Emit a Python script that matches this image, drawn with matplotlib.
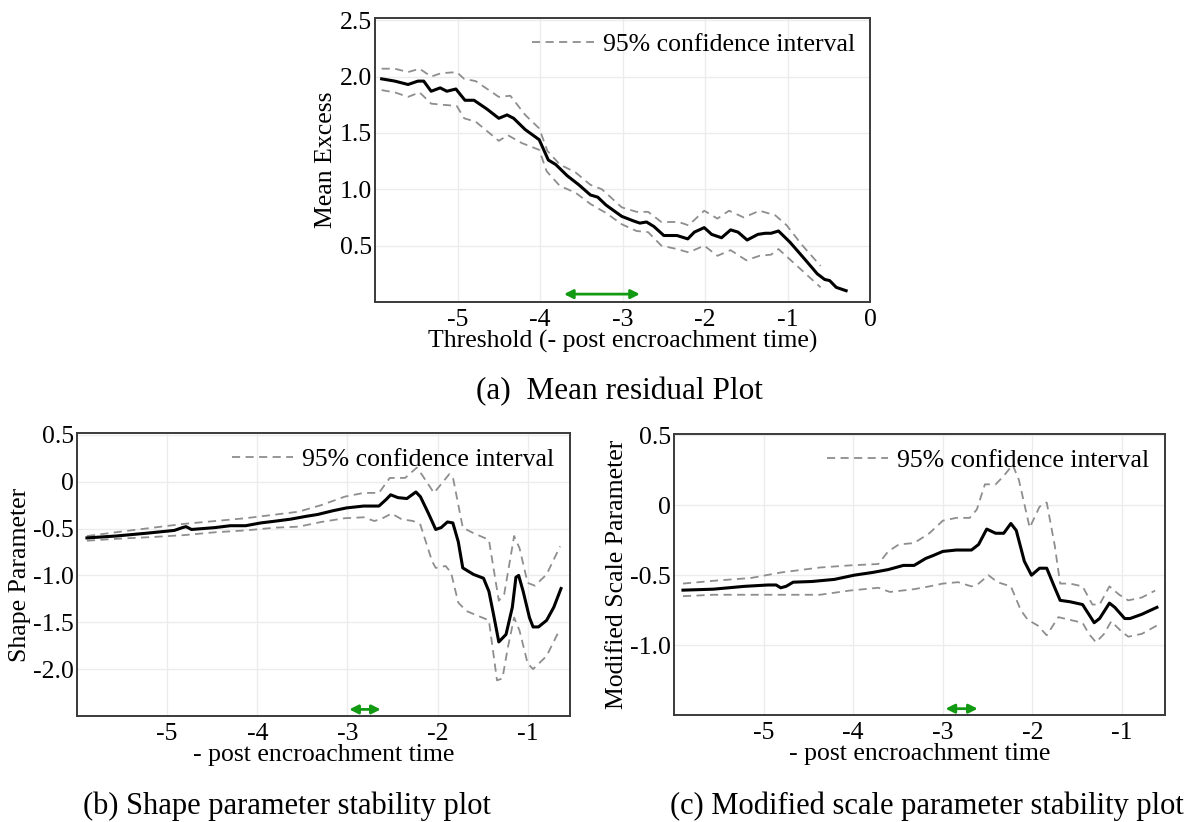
import matplotlib
matplotlib.use('Agg')
import matplotlib.pyplot as plt
from matplotlib.lines import Line2D

plt.rcParams['font.family'] = ['Liberation Serif', 'DejaVu Serif']
plt.rcParams['axes.unicode_minus'] = False

# (a) mean residual plot: mean excess vs threshold
me_x = [-5.92, -5.76, -5.60, -5.48, -5.41, -5.32, -5.21, -5.13, -5.02, -4.91,
        -4.80, -4.64, -4.50, -4.40, -4.32, -4.18, -4.01, -3.90, -3.81, -3.67,
        -3.53, -3.39, -3.30, -3.20, -3.01, -2.87, -2.79, -2.71, -2.62, -2.50,
        -2.34, -2.21, -2.13, -2.01, -1.92, -1.80, -1.69, -1.60, -1.49, -1.36,
        -1.27, -1.20, -1.11, -0.97, -0.78, -0.64, -0.55, -0.49, -0.41, -0.29]
me_y = [1.98, 1.96, 1.93, 1.96, 1.96, 1.87, 1.90, 1.87, 1.89, 1.79,
        1.79, 1.71, 1.63, 1.66, 1.63, 1.53, 1.44, 1.26, 1.22, 1.12,
        1.04, 0.95, 0.93, 0.86, 0.76, 0.72, 0.70, 0.71, 0.67, 0.59,
        0.59, 0.56, 0.62, 0.66, 0.60, 0.57, 0.64, 0.62, 0.55, 0.60,
        0.61, 0.61, 0.63, 0.53, 0.37, 0.25, 0.20, 0.19, 0.13, 0.10]
me_hi_x = [-5.92, -5.76, -5.60, -5.46, -5.32, -5.20, -5.01, -4.92, -4.78, -4.50,
           -4.36, -4.18, -4.01, -3.91, -3.76, -3.57, -3.39, -3.25, -3.01, -2.83,
           -2.69, -2.53, -2.32, -2.20, -2.01, -1.85, -1.71, -1.53, -1.34, -1.15,
           -1.01, -0.83, -0.60]
me_hi_y = [2.07, 2.07, 2.04, 2.07, 2.00, 2.03, 2.04, 1.98, 1.96, 1.82,
           1.83, 1.66, 1.54, 1.34, 1.22, 1.15, 1.04, 1.00, 0.84, 0.80,
           0.80, 0.71, 0.71, 0.68, 0.81, 0.74, 0.81, 0.75, 0.81, 0.77,
           0.68, 0.51, 0.32]
me_lo_x = [-5.92, -5.76, -5.60, -5.46, -5.32, -5.18, -5.01, -4.92, -4.78, -4.50,
           -4.39, -4.22, -4.01, -3.92, -3.76, -3.57, -3.39, -3.20, -3.01, -2.83,
           -2.69, -2.53, -2.34, -2.20, -2.01, -1.85, -1.69, -1.50, -1.34, -1.20,
           -1.11, -0.87, -0.60]
me_lo_y = [1.88, 1.86, 1.82, 1.86, 1.76, 1.75, 1.74, 1.63, 1.60, 1.43,
           1.48, 1.41, 1.35, 1.16, 1.03, 0.97, 0.87, 0.79, 0.69, 0.63,
           0.62, 0.50, 0.47, 0.44, 0.50, 0.41, 0.46, 0.37, 0.41, 0.42,
           0.47, 0.31, 0.13]

# (b) shape parameter stability
sh_x = [-5.89, -5.57, -5.23, -4.92, -4.83, -4.79, -4.73, -4.47, -4.30, -4.13,
        -3.96, -3.79, -3.63, -3.46, -3.33, -3.16, -3.01, -2.82, -2.65, -2.57,
        -2.52, -2.44, -2.34, -2.24, -2.19, -2.10, -2.02, -1.96, -1.89, -1.83,
        -1.77, -1.72, -1.60, -1.49, -1.43, -1.38, -1.32, -1.24, -1.17, -1.13,
        -1.10, -1.05, -0.98, -0.94, -0.88, -0.79, -0.71, -0.63]
sh_y = [-0.60, -0.58, -0.55, -0.52, -0.49, -0.48, -0.51, -0.49, -0.47, -0.47,
        -0.44, -0.42, -0.40, -0.37, -0.35, -0.31, -0.28, -0.26, -0.26, -0.19,
        -0.14, -0.17, -0.18, -0.11, -0.16, -0.34, -0.51, -0.49, -0.43, -0.44,
        -0.64, -0.92, -0.99, -1.03, -1.17, -1.41, -1.71, -1.63, -1.34, -1.02,
        -1.00, -1.17, -1.45, -1.55, -1.55, -1.48, -1.34, -1.14]
sh_hi_x = [-5.89, -5.57, -5.15, -4.81, -4.47, -4.13, -3.79, -3.54, -3.29, -3.03,
           -2.82, -2.65, -2.53, -2.36, -2.23, -2.17, -2.04, -1.98, -1.87, -1.83,
           -1.72, -1.60, -1.43, -1.32, -1.26, -1.15, -1.09, -1.00, -0.92, -0.79,
           -0.64]
sh_hi_y = [-0.58, -0.54, -0.49, -0.45, -0.42, -0.39, -0.35, -0.32, -0.25, -0.16,
           -0.12, -0.12, 0.04, 0.04, 0.15, 0.07, -0.12, -0.05, 0.08, 0.05,
           -0.49, -0.55, -0.62, -1.27, -1.20, -0.58, -0.71, -1.08, -1.11, -0.99,
           -0.69]
sh_lo_x = [-5.89, -5.57, -5.15, -4.81, -4.47, -4.13, -3.79, -3.54, -3.29, -3.03,
           -2.82, -2.70, -2.61, -2.51, -2.40, -2.27, -2.19, -2.06, -2.02, -1.91,
           -1.85, -1.77, -1.68, -1.43, -1.34, -1.28, -1.22, -1.15, -1.09, -1.00,
           -0.94, -0.79, -0.64]
sh_lo_y = [-0.63, -0.61, -0.59, -0.57, -0.54, -0.52, -0.49, -0.48, -0.43, -0.39,
           -0.38, -0.42, -0.39, -0.34, -0.40, -0.42, -0.46, -0.85, -0.92, -0.90,
           -0.97, -1.29, -1.38, -1.48, -2.12, -2.10, -1.77, -1.45, -1.59, -1.94,
           -2.00, -1.86, -1.57]

# (c) modified scale parameter stability
sc_x = [-5.90, -5.56, -5.22, -4.95, -4.86, -4.81, -4.75, -4.67, -4.46, -4.21,
        -3.99, -3.78, -3.61, -3.44, -3.32, -3.19, -3.11, -3.00, -2.85, -2.68,
        -2.60, -2.51, -2.41, -2.32, -2.24, -2.18, -2.09, -2.01, -1.92, -1.84,
        -1.75, -1.69, -1.58, -1.44, -1.37, -1.31, -1.25, -1.14, -1.08, -0.97,
        -0.91, -0.78, -0.61]
sc_y = [-0.607, -0.60, -0.58, -0.57, -0.57, -0.59, -0.58, -0.55, -0.545, -0.53,
        -0.50, -0.48, -0.46, -0.43, -0.43, -0.38, -0.36, -0.33, -0.32, -0.32,
        -0.28, -0.17, -0.20, -0.20, -0.13, -0.18, -0.40, -0.50, -0.45, -0.45,
        -0.59, -0.68, -0.69, -0.71, -0.78, -0.84, -0.81, -0.70, -0.73, -0.81,
        -0.81, -0.78, -0.73]
sc_hi_x = [-5.90, -5.56, -5.14, -4.80, -4.37, -4.04, -3.72, -3.61, -3.49, -3.32,
           -3.15, -3.00, -2.85, -2.70, -2.62, -2.53, -2.41, -2.32, -2.22, -2.15,
           -2.03, -1.92, -1.84, -1.75, -1.69, -1.58, -1.44, -1.33, -1.25, -1.14,
           -1.03, -0.93, -0.78, -0.63]
sc_hi_y = [-0.56, -0.54, -0.52, -0.48, -0.445, -0.43, -0.42, -0.33, -0.28, -0.27,
           -0.20, -0.11, -0.09, -0.09, -0.03, 0.15, 0.15, 0.21, 0.29, 0.18,
           -0.16, -0.01, 0.02, -0.29, -0.56, -0.56, -0.58, -0.71, -0.71, -0.58,
           -0.64, -0.68, -0.66, -0.61]
sc_lo_x = [-5.90, -5.56, -5.14, -4.80, -4.37, -4.04, -3.72, -3.59, -3.32, -3.15,
           -3.00, -2.83, -2.68, -2.60, -2.49, -2.39, -2.24, -2.13, -2.05, -1.94,
           -1.84, -1.71, -1.58, -1.44, -1.37, -1.29, -1.20, -1.12, -1.01, -0.93,
           -0.78, -0.61]
sc_lo_y = [-0.65, -0.64, -0.64, -0.64, -0.64, -0.61, -0.59, -0.62, -0.60, -0.58,
           -0.56, -0.55, -0.58, -0.56, -0.50, -0.55, -0.58, -0.75, -0.82, -0.86,
           -0.93, -0.80, -0.82, -0.84, -0.92, -0.98, -0.92, -0.83, -0.90, -0.94,
           -0.92, -0.86]

# green double arrows marking the chosen threshold range
arrow_a = [-3.71, -2.79, 0.07]
arrow_b = [-2.98, -2.63, -2.43]
arrow_c = [-2.97, -2.61, -1.455]

ticks_x = [-5, -4, -3, -2, -1]
ticks_x_lab = ['-5', '-4', '-3', '-2', '-1']
ticks_a_y = [0.5, 1.0, 1.5, 2.0, 2.5]
ticks_a_ylab = ['0.5', '1.0', '1.5', '2.0', '2.5']
ticks_b_y = [0.5, 0.0, -0.5, -1.0, -1.5, -2.0]
ticks_b_ylab = ['0.5', '0', '-0.5', '-1.0', '-1.5', '-2.0']
ticks_c_y = [0.5, 0.0, -0.5, -1.0]
ticks_c_ylab = ['0.5', '0', '-0.5', '-1.0']

FS = 18.5
CI_COLOR = '#8e8e8e'
GREEN = '#139a13'


def draw_panel(ax, mean, hi, lo, arrow, xlim, ylim, xt, xtl, yt, ytl, xlabel, ylabel):
    ax.set_xlim(*xlim)
    ax.set_ylim(*ylim)
    ax.set_xticks(xt)
    ax.set_xticklabels(xtl)
    ax.set_yticks(yt)
    ax.set_yticklabels(ytl)
    ax.grid(True, color='#ececec', linewidth=1.0)
    ax.set_axisbelow(True)
    ax.tick_params(length=0, labelsize=FS, colors='black')
    ax.tick_params(axis='x', pad=5)
    ax.tick_params(axis='y', pad=2)
    for s in ax.spines.values():
        s.set_color('#3a3a3a')
        s.set_linewidth(1.4)

    ax.plot(hi[0], hi[1], color=CI_COLOR, lw=1.3, dashes=(4.5, 3))
    ax.plot(lo[0], lo[1], color=CI_COLOR, lw=1.3, dashes=(4.5, 3))
    ax.plot(mean[0], mean[1], color='black', lw=2.2, solid_joinstyle='round')

    ax.annotate('', xy=(arrow[1], arrow[2]), xytext=(arrow[0], arrow[2]),
                arrowprops=dict(arrowstyle='<|-|>', color=GREEN, lw=2,
                                mutation_scale=13, shrinkA=0, shrinkB=0))

    ci = Line2D([], [], color=CI_COLOR, lw=1.3, dashes=(4.5, 3))
    ax.legend(handles=[ci], labels=['95% confidence interval'], loc='upper right',
              frameon=False, fontsize=FS, handlelength=2.4, handletextpad=0.35,
              borderaxespad=0.2)

    ax.set_xlabel(xlabel, fontsize=FS, labelpad=-1)
    ax.set_ylabel(ylabel, fontsize=FS, labelpad=2)


fig = plt.figure(figsize=(11.94, 8.22), dpi=100)

ax_a = fig.add_axes([0.3141, 0.6326, 0.4146, 0.3455])
draw_panel(ax_a, (me_x, me_y), (me_hi_x, me_hi_y), (me_lo_x, me_lo_y), arrow_a,
           (-6, 0), (0, 2.52), ticks_x + [0], ticks_x_lab + ['0'],
           ticks_a_y, ticks_a_ylab,
           'Threshold (- post encroachment time)', 'Mean Excess')

ax_b = fig.add_axes([0.0645, 0.1290, 0.4129, 0.3443])
draw_panel(ax_b, (sh_x, sh_y), (sh_hi_x, sh_hi_y), (sh_lo_x, sh_lo_y), arrow_b,
           (-6, -0.53), (-2.5, 0.52), ticks_x, ticks_x_lab,
           ticks_b_y, ticks_b_ylab,
           '- post encroachment time', 'Shape Parameter')

ax_c = fig.add_axes([0.5645, 0.1302, 0.4112, 0.3418])
draw_panel(ax_c, (sc_x, sc_y), (sc_hi_x, sc_hi_y), (sc_lo_x, sc_lo_y), arrow_c,
           (-6, -0.52), (-1.5, 0.51), ticks_x, ticks_x_lab,
           ticks_c_y, ticks_c_ylab,
           '- post encroachment time', 'Modified Scale Parameter')

fig.text(0.519, 1 - 392 / 822, '(a)  Mean residual Plot', fontsize=22.5,
         ha='center', va='center')
fig.text(0.240, 1 - 806 / 822, '(b) Shape parameter stability plot', fontsize=22,
         ha='center', va='center')
fig.text(0.776, 1 - 806 / 822, '(c) Modified scale parameter stability plot',
         fontsize=22, ha='center', va='center')

fig.savefig('out.png', dpi=100)
